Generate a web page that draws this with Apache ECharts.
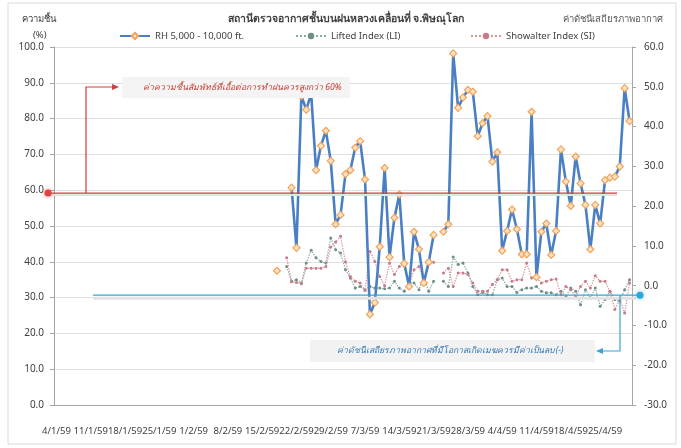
<!DOCTYPE html>
<html><head><meta charset="utf-8">
<script src="https://cdn.jsdelivr.net/npm/echarts@6/dist/echarts.min.js"></script>
<style>html,body{margin:0;padding:0;background:#fff}#c{width:681px;height:448px}</style>
</head><body><div id="c"></div>
<script>
// ---- data ----
const year = '59';
const months = [ [1, 4, 31], [2, 1, 29], [3, 1, 31], [4, 1, 30] ]; // month, first day, last day
const categories = [];
months.forEach(([m, d0, d1]) => { for (let d = d0; d <= d1; d++) categories.push(d + '/' + m + '/' + year); });

const rhStart = 45;
const rhValues = [37.5, null, null,
  60.7, 43.9, 86.3, 82.5, 87.0, 65.6, 72.4, 76.6, 68.2, 50.5, 53.1, 64.5, 65.6, 71.9, 73.7,
  63.0, 25.3, 28.6, 44.2, 66.2, 41.3, 52.3, 58.8, 39.5, 33.1, 48.4, 43.5, 34.1, 39.9, 47.5,
  null,
  48.4, 50.5, 98.2, 83.0, 85.9, 88.0, 87.5, 75.1, 78.7, 80.7, 68.0, 70.6, 43.1, 48.6, 54.6,
  49.1, 42.1, 42.1, 81.9, 35.7, 48.4, 50.7, 41.9, 48.6, 71.4, 62.4, 55.6, 69.4, 61.9, 55.9,
  43.5, 55.9, 50.7, 62.8, 63.5, 63.8, 66.6, 88.5, 79.3];

const idxStart = 47;
const liValues = [4.8, 1.1, 1.5, 0.7, 5.7, 8.9, 7.0, 6.1, 5.7, 12.0, 9.0, 8.2, 4.0, 1.9, -0.6,
  -0.2, -1.0, -0.2, -0.6, -0.6, -0.8, -0.6, 1.1, -0.6, -1.4, 0.7, 0.7, -1.0, 2.3, -1.4, 1.1,
  null,
  1.1, -0.2, 7.2, 5.3, 5.7, 3.2, -0.2, -2.3, -1.7, -2.3, -2.3, 1.5, 1.9, -0.2, -0.2, -1.7,
  -1.0, -0.6, -0.6, -0.2, -1.4, -1.8, -1.8, -2.3, -1.4, -2.7, -0.6, -1.4, -4.8, -1.0, -3.1,
  -0.6, -5.2, -3.5, -1.4, -3.5, -3.9, -1.0, 1.5];
const siValues = [7.0, 1.0, 0.8, 0.5, 4.4, 4.4, 4.4, 4.4, 4.8, 9.7, 11.0, 12.4, 6.0, 2.3, 1.1,
  0.7, -1.2, 8.6, 6.1, 2.3, 0.0, 5.7, 2.8, 4.8, 5.7, 0.0, 4.0, 4.8, 1.1, 6.1, 5.9,
  null,
  3.2, 4.4, -0.2, 3.2, 3.2, 2.8, 0.7, -1.4, -1.4, -1.4, 0.3, 1.5, 4.0, 4.0, 1.1, 1.5, 1.5,
  5.7, 1.9, 1.9, 0.7, 1.1, 1.5, 1.7, -2.3, -0.2, -1.0, -2.7, -0.2, 1.1, -0.6, 2.5, 1.1, 1.1,
  -1.4, -6.0, -3.5, -6.9, 0.7];

const rhThreshold = 59.2;      // left axis (%)
const indexThreshold = -2.4;   // right axis

const leftTicks = { min: 0, max: 100, interval: 10 };
const rightTicks = { min: -30, max: 60, interval: 10 };

const names = ['RH 5,000 - 10,000 ft.', 'Lifted Index (LI)', 'Showalter Index (SI)'];
const titleText = 'สถานีตรวจอากาศชั้นบนฝนหลวงเคลื่อนที่ จ.พิษณุโลก';
const leftAxisName = 'ความชื้น';
const leftUnit = '(%)';
const rightAxisName = 'ค่าดัชนีเสถียรภาพอากาศ';
const noteRH = 'ค่าความชื้นสัมพัทธ์ที่เอื้อต่อการทำฝนควรสูงกว่า 60%';
const noteIdx = 'ค่าดัชนีเสถียรภาพอากาศที่มีโอกาสเกิดเมฆควรมีค่าเป็นลบ (-)';

function pad(start, vals) {
  const out = new Array(categories.length).fill(null);
  vals.forEach((v, i) => { out[start + i] = v; });
  return out;
}

const FONT = "'Noto Sans', 'DejaVu Sans', sans-serif";
const chart = echarts.init(document.getElementById('c'), null, { renderer: 'canvas' });

const legendBase = { top: 31, padding: 0, itemWidth: 30, itemHeight: 8, itemGap: 0,
  textStyle: { fontSize: 9.5, color: '#404040', fontFamily: FONT } };

chart.setOption({
  animation: false,
  backgroundColor: '#ffffff',
  textStyle: { fontFamily: FONT },
  grid: { left: 54, right: 49, top: 47, bottom: 43, containLabel: false },
  legend: [
    Object.assign({ left: 119, data: [names[0]] }, legendBase),
    Object.assign({ left: 295, data: [names[1]] }, legendBase),
    Object.assign({ left: 470, data: [names[2]] }, legendBase)
  ],
  xAxis: [{
    type: 'category', data: categories, boundaryGap: true,
    axisLine: { lineStyle: { color: '#a6a6a6' } },
    axisTick: { interval: 0, length: 3, lineStyle: { color: '#a6a6a6' } },
    axisLabel: { interval: 6, fontSize: 9.5, color: '#404040', margin: 21, fontFamily: FONT },
    splitLine: { show: false }
  }, {
    type: 'category', data: categories, boundaryGap: true, position: 'bottom',
    axisLine: { show: false },
    axisTick: { interval: 6, length: 4, inside: true, lineStyle: { color: '#a6a6a6' } },
    axisLabel: { show: false }, splitLine: { show: false }
  }],
  yAxis: [{
    type: 'value', min: leftTicks.min, max: leftTicks.max, interval: leftTicks.interval,
    axisLine: { show: true, lineStyle: { color: '#a6a6a6' } },
    axisTick: { show: true, length: 4, lineStyle: { color: '#a6a6a6' } },
    axisLabel: { formatter: v => v.toFixed(1), fontSize: 10, color: '#404040', margin: 10, fontFamily: FONT },
    splitLine: { show: true, lineStyle: { color: '#e0e0e0', width: 1 } }
  }, {
    type: 'value', min: rightTicks.min, max: rightTicks.max, interval: rightTicks.interval,
    position: 'right', alignTicks: false,
    axisLine: { show: true, lineStyle: { color: '#a6a6a6' } },
    axisTick: { show: true, length: 4, lineStyle: { color: '#a6a6a6' } },
    axisLabel: { formatter: v => v.toFixed(1), fontSize: 10, color: '#404040', margin: 12, fontFamily: FONT },
    splitLine: { show: false }
  }],
  series: [{
    name: names[1], type: 'line', yAxisIndex: 1, data: pad(idxStart, liValues),
    symbol: 'circle', symbolSize: 3, showSymbol: true, showAllSymbol: true,
    lineStyle: { type: 'dotted', width: 1.3, color: '#8aada1' },
    itemStyle: { color: '#6e8f84', borderWidth: 0 }, z: 2
  }, {
    name: names[2], type: 'line', yAxisIndex: 1, data: pad(idxStart, siValues),
    symbol: 'circle', symbolSize: 3, showSymbol: true, showAllSymbol: true,
    lineStyle: { type: 'dotted', width: 1.3, color: '#d99494' },
    itemStyle: { color: '#c77b8a', borderWidth: 0 }, z: 3
  }, {
    name: names[0], type: 'line', yAxisIndex: 0, data: pad(rhStart, rhValues),
    symbol: 'diamond', symbolSize: 7, showSymbol: true, showAllSymbol: true, connectNulls: false,
    lineStyle: { width: 2.6, color: '#4a7fc4' },
    itemStyle: { color: '#fde3c3', borderColor: '#f0a35a', borderWidth: 1.2 }, z: 4
  }]
});

// ---- annotations (positions derived from axis values) ----
const yRed = chart.convertToPixel({ yAxisIndex: 0 }, rhThreshold);
const yBlue = chart.convertToPixel({ yAxisIndex: 1 }, indexThreshold);
const redC = '#d23c3c', blueC = '#35a4d6';
const g = [
  { type: 'rect', shape: { x: 8, y: 3, width: 668, height: 441 }, style: { fill: 'none', stroke: '#d9d9d9', lineWidth: 1 }, z: 0 },
  { type: 'text', left: 22, top: 14, style: { text: leftAxisName, fontSize: 9.5, fill: '#404040', fontFamily: FONT } },
  { type: 'text', left: 33, top: 30, style: { text: leftUnit, fontSize: 9.5, fill: '#404040', fontFamily: FONT } },
  { type: 'text', left: 563, top: 14, style: { text: rightAxisName, fontSize: 9.5, fill: '#595959', fontFamily: FONT } },
  { type: 'text', x: 346, y: 19, style: { text: titleText, fontSize: 10.5, fontWeight: 'bold', fill: '#404040', align: 'center', verticalAlign: 'middle', fontFamily: FONT } },
  // red threshold
  { type: 'line', shape: { x1: 48, y1: yRed + 2, x2: 617, y2: yRed + 2 }, style: { stroke: '#e4e4e4', lineWidth: 2 }, z: 5 },
  { type: 'line', shape: { x1: 48, y1: yRed, x2: 617, y2: yRed }, style: { stroke: redC, lineWidth: 1.3 }, z: 6 },
  { type: 'circle', shape: { cx: 48, cy: yRed, r: 3.5 }, style: { fill: '#e8403f', shadowBlur: 4, shadowColor: 'rgba(232,64,63,0.6)' }, z: 7 },
  { type: 'polyline', shape: { points: [[86, yRed], [86, 87], [113, 87]] }, style: { stroke: redC, lineWidth: 1.2, fill: 'none' }, z: 6 },
  { type: 'polygon', shape: { points: [[112, 84], [119, 87], [112, 90]] }, style: { fill: redC }, z: 6 },
  { type: 'rect', shape: { x: 122, y: 77, width: 228, height: 21 }, style: { fill: '#f4f4f4' }, z: 5 },
  { type: 'text', x: 143, y: 87.5, style: { text: noteRH, fontSize: 8.6, fontStyle: 'italic', fill: '#c0392b', verticalAlign: 'middle', fontFamily: FONT }, z: 6 },
  // blue threshold
  { type: 'line', shape: { x1: 93, y1: yBlue + 3, x2: 636, y2: yBlue + 3 }, style: { stroke: '#e2e2e2', lineWidth: 3 }, z: 5 },
  { type: 'line', shape: { x1: 93, y1: yBlue, x2: 638, y2: yBlue }, style: { stroke: blueC, lineWidth: 1.3 }, z: 6 },
  { type: 'circle', shape: { cx: 640, cy: yBlue, r: 3.5 }, style: { fill: '#2aa6de', shadowBlur: 4, shadowColor: 'rgba(42,166,222,0.6)' }, z: 7 },
  { type: 'polyline', shape: { points: [[620, yBlue], [620, 351], [602, 351]] }, style: { stroke: blueC, lineWidth: 1.2, fill: 'none' }, z: 6 },
  { type: 'polygon', shape: { points: [[603, 348], [596, 351], [603, 354]] }, style: { fill: blueC }, z: 6 },
  { type: 'rect', shape: { x: 310, y: 340, width: 285, height: 22 }, style: { fill: '#f2f2f2' }, z: 5 },
  { type: 'text', x: 450, y: 351, style: { text: noteIdx, fontSize: 8.6, fontStyle: 'italic', fill: '#2e75b6', align: 'center', verticalAlign: 'middle', fontFamily: FONT }, z: 6 }
];
chart.setOption({ graphic: g });
</script>
</body></html>
